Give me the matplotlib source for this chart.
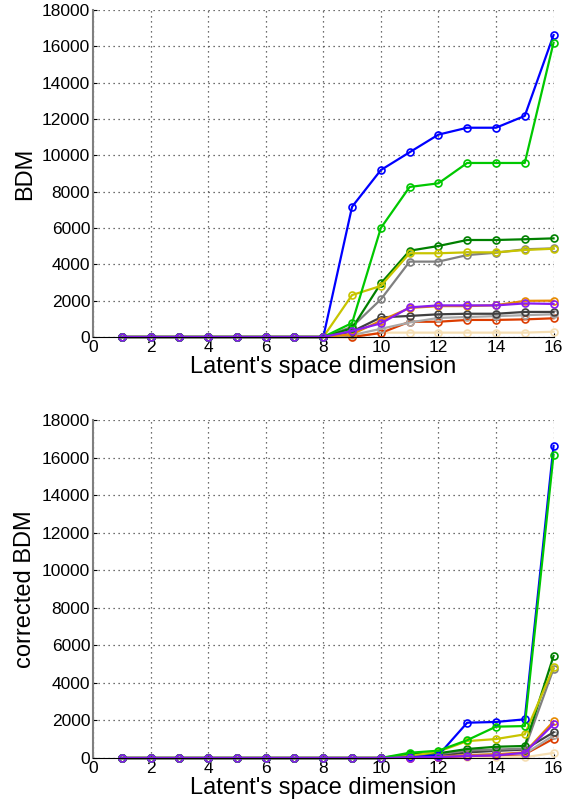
import numpy as np
import matplotlib.pyplot as plt

plt.rcParams['font.family'] = ['Liberation Sans', 'DejaVu Sans']

dims = list(range(1, 17))

# BDM per latent dimension (values for dims 1..16)
bdm_blue      = [0, 0, 0, 0, 0, 0, 0, 0, 7170, 9190, 10170, 11140, 11520, 11520, 12170, 16620]
bdm_green     = [0, 0, 0, 0, 0, 0, 0, 0, 770, 6000, 8260, 8460, 9580, 9580, 9580, 16200]
bdm_darkgreen = [0, 0, 0, 0, 0, 0, 0, 0, 480, 2950, 4750, 5010, 5340, 5340, 5380, 5430]
bdm_yellow    = [0, 0, 0, 0, 0, 0, 0, 0, 2310, 2810, 4610, 4610, 4660, 4660, 4790, 4860]
bdm_gray      = [0, 0, 0, 0, 0, 0, 0, 0, 560, 2070, 4150, 4150, 4510, 4640, 4830, 4880]
bdm_orange    = [0, 0, 0, 0, 0, 0, 0, 0, 150, 900, 1600, 1700, 1700, 1750, 1990, 2000]
bdm_purple    = [0, 0, 0, 0, 0, 0, 0, 0, 330, 750, 1630, 1740, 1740, 1740, 1850, 1820]
bdm_darkgray  = [0, 0, 0, 0, 0, 0, 0, 0, 300, 1080, 1160, 1250, 1280, 1280, 1380, 1380]
bdm_lightgray = [0, 0, 0, 0, 0, 0, 0, 0, 100, 450, 800, 1050, 1100, 1150, 1200, 1250]
bdm_red       = [0, 0, 0, 0, 0, 0, 0, 0, 0, 220, 840, 840, 940, 940, 970, 1030]
bdm_peach     = [0, 0, 0, 0, 0, 0, 0, 0, 0, 240, 240, 240, 240, 240, 240, 290]

# corrected BDM
cbdm_blue      = [0, 0, 0, 0, 0, 0, 0, 0, 0, 0, 30, 150, 1880, 1920, 2060, 16620]
cbdm_green     = [0, 0, 0, 0, 0, 0, 0, 0, 0, 0, 280, 390, 950, 1670, 1700, 16150]
cbdm_darkgreen = [0, 0, 0, 0, 0, 0, 0, 0, 0, 0, 200, 250, 480, 600, 640, 5430]
cbdm_yellow    = [0, 0, 0, 0, 0, 0, 0, 0, 0, 0, 100, 340, 900, 1010, 1260, 4830]
cbdm_gray      = [0, 0, 0, 0, 0, 0, 0, 0, 0, 0, 80, 200, 400, 450, 500, 4750]
cbdm_orange    = [0, 0, 0, 0, 0, 0, 0, 0, 0, 0, 30, 80, 150, 200, 300, 1950]
cbdm_purple    = [0, 0, 0, 0, 0, 0, 0, 0, 0, 0, 20, 50, 110, 140, 280, 1800]
cbdm_darkgray  = [0, 0, 0, 0, 0, 0, 0, 0, 0, 0, 50, 120, 300, 380, 450, 1370]
cbdm_lightgray = [0, 0, 0, 0, 0, 0, 0, 0, 0, 0, 30, 100, 150, 200, 220, 1200]
cbdm_red       = [0, 0, 0, 0, 0, 0, 0, 0, 0, 0, 10, 40, 100, 150, 200, 1030]
cbdm_peach     = [0, 0, 0, 0, 0, 0, 0, 0, 0, 0, 10, 30, 70, 60, 40, 270]

colors = {
    'peach': '#f5deb3', 'red': '#dc3c00', 'lightgray': '#a8a8a8',
    'darkgray': '#404040', 'orange': '#e88a00', 'gray': '#808080',
    'darkgreen': '#008000', 'yellow': '#c8c400', 'green': '#00c800',
    'blue': '#0000ff', 'purple': '#8a1cf0',
}
order = ['peach', 'red', 'lightgray', 'darkgray', 'orange', 'gray',
         'darkgreen', 'yellow', 'blue', 'green', 'purple']

top = {'blue': bdm_blue, 'green': bdm_green, 'darkgreen': bdm_darkgreen,
       'yellow': bdm_yellow, 'gray': bdm_gray, 'orange': bdm_orange,
       'purple': bdm_purple, 'darkgray': bdm_darkgray,
       'lightgray': bdm_lightgray, 'red': bdm_red, 'peach': bdm_peach}
bottom = {'blue': cbdm_blue, 'green': cbdm_green, 'darkgreen': cbdm_darkgreen,
          'yellow': cbdm_yellow, 'gray': cbdm_gray, 'orange': cbdm_orange,
          'purple': cbdm_purple, 'darkgray': cbdm_darkgray,
          'lightgray': cbdm_lightgray, 'red': cbdm_red, 'peach': cbdm_peach}

fig = plt.figure(figsize=(5.63, 8.07), dpi=100)
ax1 = fig.add_axes([0.1652, 0.5824, 0.818, 0.4052])
ax2 = fig.add_axes([0.1652, 0.0607, 0.818, 0.4189])


def draw(ax, data, ylabel):
    for name in order:
        ax.plot(dims, data[name], '-o', color=colors[name], lw=1.6,
                ms=5, mfc='none', mew=1.2, clip_on=False)
    ax.set_xlim(0, 16)
    ax.set_ylim(0, 18000)
    ax.set_xticks(range(0, 17, 2))
    ax.set_yticks(range(0, 18001, 2000))
    ax.grid(True, linestyle=(0, (1, 3)), color='0.25', lw=0.9)
    ax.spines['top'].set_visible(False)
    ax.spines['right'].set_visible(False)
    ax.spines['left'].set_color('0.5')
    ax.spines['left'].set_linewidth(1.5)
    ax.spines['bottom'].set_color('black')
    ax.tick_params(direction='in', length=3, labelsize=12.5, pad=2)
    ax.set_ylabel(ylabel, fontsize=17, labelpad=4)
    ax.set_xlabel("Latent's space dimension", fontsize=17, labelpad=1)


draw(ax1, top, 'BDM')
draw(ax2, bottom, 'corrected BDM')

fig.savefig('out.png', dpi=100)
